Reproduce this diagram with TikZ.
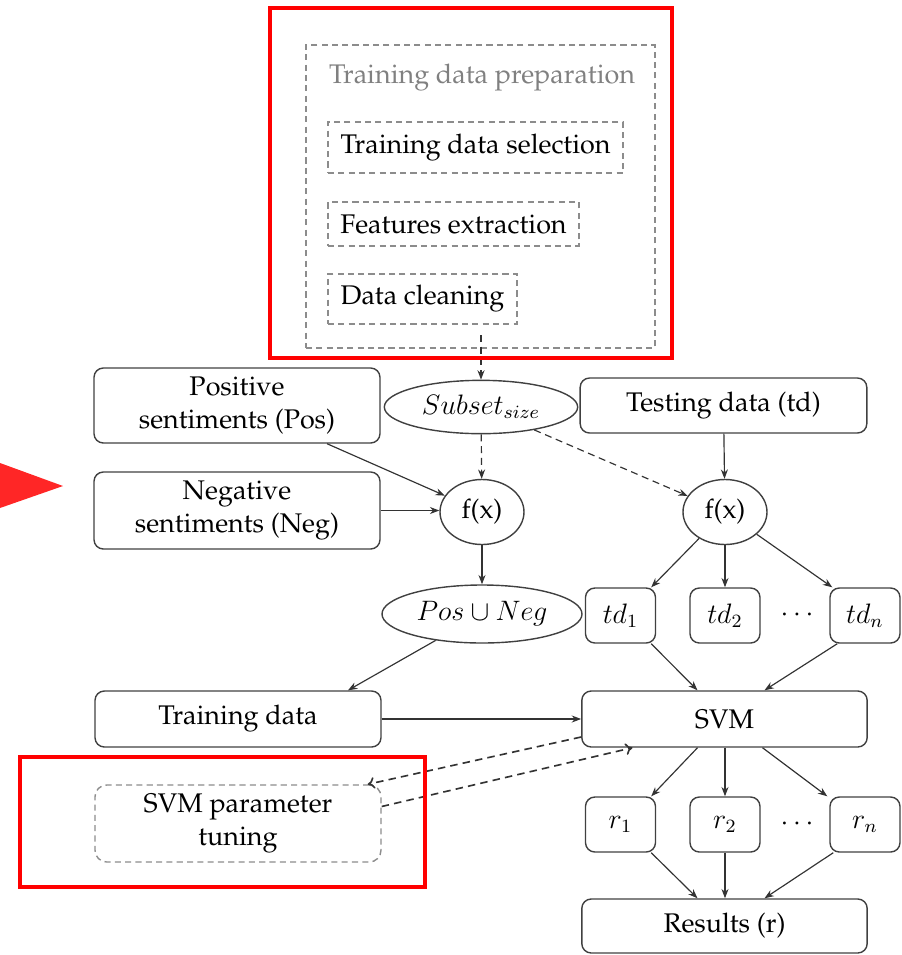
\documentclass[tikz,border=0pt]{standalone}
\usepackage[T1]{fontenc}
\renewcommand{\rmdefault}{ppl}
\usetikzlibrary{shapes.geometric,arrows.meta,calc}
\begin{document}
\begin{tikzpicture}[x=0.015cm,y=-0.015cm,
  font=\fontsize{11.5}{14}\selectfont,
  box/.style={draw=black!75,rounded corners=4pt,line width=0.6pt,align=center,inner sep=0pt},
  dbox/.style={draw=black!45,line width=0.6pt,inner sep=0pt,align=center,dash pattern=on 2.6pt off 1.8pt},
  ell/.style={draw=black!75,ellipse,inner sep=0pt,line width=0.6pt},
  tdbox/.style={box,minimum width=1.05cm,minimum height=0.825cm},
  arr/.style={-{Stealth[length=4pt,width=3pt]},black!80,line width=0.5pt},
  darr/.style={-{To[length=3pt,width=5pt]},black!80,line width=0.7pt,dash pattern=on 3.2pt off 2.2pt},
  redbox/.style={draw=red,line width=1.8pt}]
\useasboundingbox (0,0) rectangle (902,955);

% training data preparation
\node[dbox,minimum width=5.235cm,minimum height=4.545cm] (prep) at (480.5,196.5) {};
\node[text=black!50] (preptitle) at (482,78) {Training data preparation};
\node[dbox,minimum width=4.425cm,minimum height=0.765cm] (tds) at (475.5,147.5) {Training data selection};
\node[dbox,minimum width=3.765cm,minimum height=0.66cm] (fe) at (453.5,224) {Features extraction};
\node[dbox,minimum width=2.835cm,minimum height=0.75cm] (dc) at (422.5,299) {Data cleaning};
\coordinate (prepout) at (481,335);

% middle
\node[ell,minimum width=2.9cm,minimum height=0.8cm] (subset) at (481,407) {$Subset_{size}$};
\node[box,minimum width=4.29cm,minimum height=1.125cm] (pos) at (237,405.5) {Positive\\sentiments (Pos)};
\node[box,minimum width=4.29cm,minimum height=1.155cm] (neg) at (237,510.5) {Negative\\sentiments (Neg)};
\node[box,minimum width=4.3cm,minimum height=0.825cm] (test) at (723.5,405.5) {Testing data (td)};
\node[ell,minimum width=1.26cm,minimum height=0.975cm] (fx1) at (482,512) {f(x)};
\node[ell,minimum width=1.26cm,minimum height=0.975cm] (fx2) at (725,512) {f(x)};
\node[ell,minimum width=3cm,minimum height=0.87cm] (pun) at (482,614) {$Pos\cup Neg$};
\node[tdbox] (td1) at (620.5,615.5) {$td_1$};
\node[tdbox] (td2) at (725,615.5) {$td_2$};
\node (tddots) at (797,615.5) {$\cdots$};
\node[tdbox] (tdn) at (865,615.5) {$td_n$};

% bottom
\node[box,minimum width=4.29cm,minimum height=0.84cm] (train) at (238,719) {Training data};
\node[box,minimum width=4.28cm,minimum height=0.84cm] (svm) at (724.5,719) {SVM};
\node[dbox,rounded corners=5pt,minimum width=4.29cm,minimum height=1.155cm] (tune) at (238,823.5) {SVM parameter\\tuning};
\node[tdbox] (r1) at (620.5,824.5) {$r_1$};
\node[tdbox] (r2) at (725,824.5) {$r_2$};
\node (rdots) at (797,824.5) {$\cdots$};
\node[tdbox] (rn) at (865,824.5) {$r_n$};
\node[box,minimum width=4.28cm,minimum height=0.81cm] (results) at (724.5,926) {Results (r)};

% connectors
\draw[arr,dash pattern=on 3pt off 2pt] (prepout) -- (subset);
\draw[arr] (pos.-23) -- (fx1);
\draw[arr] (neg.east) -- (neg.east -| fx1.west);
\draw[arr,dash pattern=on 3pt off 2pt] (subset) -- (fx1);
\draw[arr,dash pattern=on 3pt off 2pt] (subset) -- (fx2);
\draw[arr] (test) -- (fx2);
\draw[arr] (fx2) -- ($(td1.north east)+(-5,0)$);
\draw[arr] (fx2) -- (td2);
\draw[arr] (fx2) -- ($(tdn.north west)+(3,0)$);
\draw[arr] (fx1) -- (pun);
\draw[arr] (pun) -- ($(train.north)+(110,0)$);
\draw[arr] (train) -- (svm);
\draw[arr] ($(td1.south east)+(-5,0)$) -- ($(svm.north)+(-27,0)$);
\draw[arr] ($(tdn.south west)+(8,0)$) -- ($(svm.north)+(40,0)$);
\draw[arr] ($(svm.south)+(-27,0)$) -- ($(r1.north east)+(-5,0)$);
\draw[arr] (svm.south -| r2) -- (r2);
\draw[arr] ($(svm.south)+(38,0)$) -- ($(rn.north west)+(-2,0)$);
\draw[arr] ($(r1.south east)+(-5,0)$) -- ($(results.north)+(-27,0)$);
\draw[arr] (r2) -- (r2 |- results.north);
\draw[arr] ($(rn.south west)+(4,0)$) -- ($(results.north)+(40,0)$);
\draw[darr] ($(svm.west)+(0,18)$) -- ($(tune.north east)+(-14,0)$);
\draw[darr] ($(tune.east)+(0,-17)$) -- ($(svm.south)+(-92,0)$);

% highlights
\fill[red!85!white] (0,463) -- (63,486) -- (0,508) -- cycle;
\draw[redbox] (270,8) rectangle (672,358);
\draw[redbox] (20,757) rectangle (425,887);
\end{tikzpicture}
\end{document}
